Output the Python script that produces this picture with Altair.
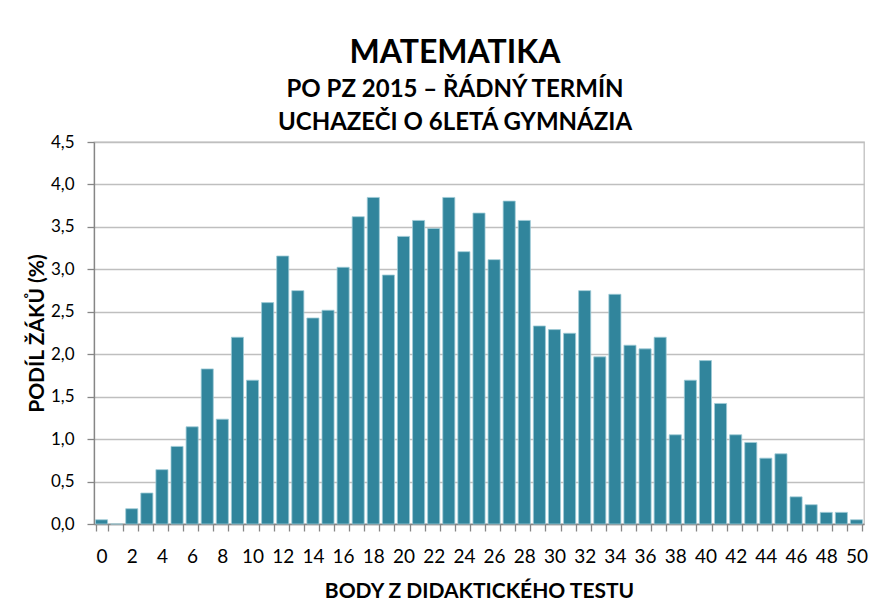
import altair as alt
import pandas as pd

points = list(range(51))
shares = [0.05, 0.0, 0.18, 0.365, 0.64, 0.914, 1.145, 1.827, 1.235, 2.2,
          1.694, 2.608, 3.157, 2.749, 2.427, 2.518, 3.024, 3.62, 3.847, 2.933,
          3.388, 3.576, 3.482, 3.847, 3.208, 3.663, 3.114, 3.804, 3.576, 2.333,
          2.29, 2.247, 2.749, 1.969, 2.706, 2.106, 2.063, 2.2, 1.051, 1.694,
          1.925, 1.42, 1.051, 0.961, 0.776, 0.827, 0.32, 0.227, 0.137, 0.137,
          0.05]
y_ticks = [0, 0.5, 1, 1.5, 2, 2.5, 3, 3.5, 4, 4.5]

title_main = "MATEMATIKA"
title_sub = ["PO PZ 2015 – ŘÁDNÝ TERMÍN", "UCHAZEČI O 6LETÁ GYMNÁZIA"]
x_title = "BODY Z DIDAKTICKÉHO TESTU"
y_title = "PODÍL ŽÁKŮ (%)"

df = pd.DataFrame({"body": points, "podil": shares})

FONT = "Lato"

chart = alt.Chart(df).mark_bar(
    fill="#31859C", stroke="#9fcbd7", strokeWidth=0.8
).encode(
    x=alt.X("body:O", sort="ascending",
            scale=alt.Scale(paddingInner=0.2, paddingOuter=0.1),
            axis=alt.Axis(title=x_title, labelAngle=0,
                          labelExpr="datum.value % 2 == 0 ? datum.label : ''",
                          tickBand="extent", tickSize=7, labelPadding=16,
                          labelFontSize=19, labelColor="#000000",
                          titleFontSize=21, titleFontWeight="bold", titleColor="#000000",
                          titleY=73, titleBaseline="alphabetic",
                          domainColor="#868686", tickColor="#868686",
                          domainWidth=1.3, tickWidth=1.3, grid=False)),
    y=alt.Y("podil:Q", scale=alt.Scale(domain=[0, 4.5], nice=False),
            axis=alt.Axis(title=y_title, values=y_ticks,
                          labelExpr="replace(format(datum.value, '.1f'), '.', ',')",
                          tickSize=7, labelPadding=13, labelFontSize=17,
                          labelColor="#000000",
                          titleFontSize=21, titleFontWeight="bold", titleColor="#000000",
                          titleX=-57, titleBaseline="middle",
                          domainColor="#868686", tickColor="#868686",
                          domainWidth=1.3, tickWidth=1.3,
                          gridColor="#bfbfbf", gridWidth=1.3)),
).properties(
    width=770,
    height=382,
    padding={"left": 86, "top": 134, "right": 11, "bottom": 80},
    autosize=alt.AutoSizeParams(type="none"),
    title=alt.TitleParams(
        text=title_main, subtitle=title_sub, anchor="middle", dx=-24,
        fontSize=32, fontWeight="bold", font=FONT, color="#000000",
        subtitleFontSize=24, subtitleFontWeight="bold", subtitleFont=FONT,
        subtitleColor="#000000", subtitleLineHeight=33, subtitlePadding=8,
        offset=-3,
    ),
).configure(font=FONT).configure_view(
    stroke="#bfbfbf", strokeWidth=1.3
).configure_axis(labelFont=FONT, titleFont=FONT)

chart.save("out.html", embed_options={"renderer": "svg", "actions": False})
